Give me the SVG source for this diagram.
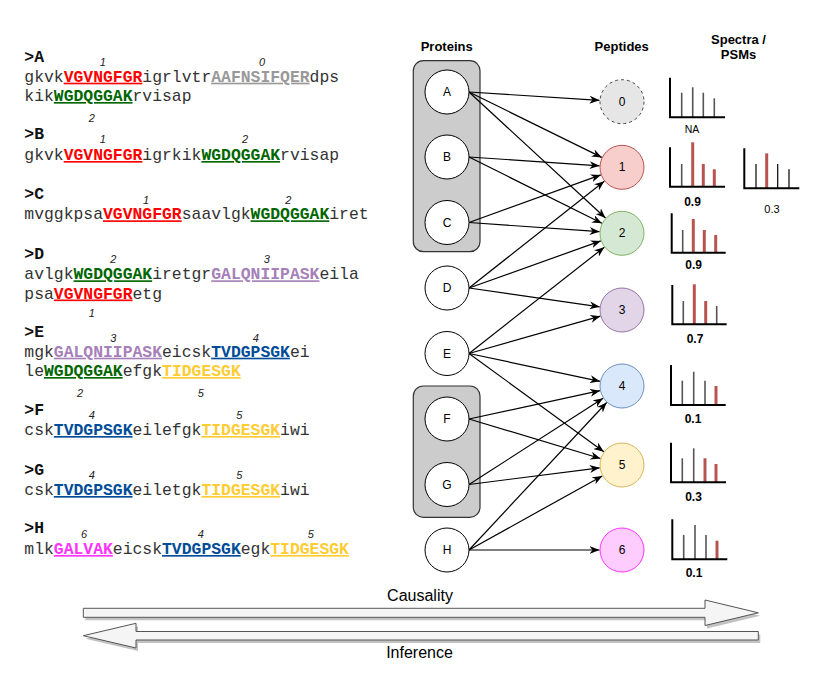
<svg xmlns="http://www.w3.org/2000/svg" width="824" height="673" viewBox="0 0 824 673">
<defs>
<style>
.seq{font-family:"Liberation Mono","Courier New",monospace;font-size:16.4px;fill:#333}
.lbl{font-family:"Liberation Mono","Courier New",monospace;font-size:16.4px;font-weight:bold;fill:#111}
.p{font-weight:bold;text-decoration:underline}
.red{fill:#FF0000}.gry{fill:#999999}.grn{fill:#006600}.pur{fill:#A680B8}.blu{fill:#004C99}.yel{fill:#FFCC33}.mag{fill:#FF33FF}
.num{font-family:"Liberation Sans",Arial,sans-serif;font-style:italic;font-size:11px;fill:#222;text-anchor:middle}
.hdr{font-family:"Liberation Sans",Arial,sans-serif;font-weight:bold;font-size:13px;fill:#000;text-anchor:middle}
.nl{font-family:"Liberation Sans",Arial,sans-serif;font-size:12px;fill:#000;text-anchor:middle;dominant-baseline:central}
.pc{fill:#fff;stroke:#000;stroke-width:1}
.grp{fill:#CCCCCC;stroke:#333;stroke-width:1.2}
.edge{stroke:#000;stroke-width:1.2;fill:none;marker-end:url(#arr)}
.ax{stroke:#000;stroke-width:2;fill:none}
.g{stroke:#555;stroke-width:1.6}
.r{stroke:#B85450;stroke-width:3}
.k{stroke:#000;stroke-width:1.2}
.sc{font-family:"Liberation Sans",Arial,sans-serif;font-weight:bold;font-size:12px;fill:#000;text-anchor:middle}
.scn{font-family:"Liberation Sans",Arial,sans-serif;font-size:10.5px;fill:#000;text-anchor:middle}
.big{fill:#F5F5F5;stroke:#555;stroke-width:1}
.shd{fill:#999;opacity:0.6}
.cap{font-family:"Liberation Sans",Arial,sans-serif;font-size:16px;fill:#000;text-anchor:middle}
</style>
<marker id="arr" viewBox="0 0 10 8" refX="10" refY="4" markerWidth="10" markerHeight="8" markerUnits="userSpaceOnUse" orient="auto">
<path d="M0,0 L10,4 L0,8 L3,4 Z" fill="#000"/>
</marker>
</defs>

<g id="sequences">
<text class="lbl" x="24.3" y="61.7">&gt;A</text>
<text class="num" x="102.7" y="66">1</text><text class="num" x="262" y="66">0</text>
<text class="seq" x="24.3" y="81.7">gkvk<tspan class="p red">VGVNGFGR</tspan>igrlvtr<tspan class="p gry">AAFNSIFQER</tspan>dps</text>
<text class="seq" x="24.3" y="101">kik<tspan class="p grn">WGDQGGAK</tspan>rvisap</text>
<text class="num" x="91.7" y="121.7">2</text>

<text class="lbl" x="24.3" y="139.3">&gt;B</text>
<text class="num" x="102.7" y="143">1</text><text class="num" x="245" y="143">2</text>
<text class="seq" x="24.3" y="160">gkvk<tspan class="p red">VGVNGFGR</tspan>igrkik<tspan class="p grn">WGDQGGAK</tspan>rvisap</text>

<text class="lbl" x="24.3" y="199.3">&gt;C</text>
<text class="num" x="146" y="204.3">1</text><text class="num" x="288.3" y="204.3">2</text>
<text class="seq" x="24.3" y="219.3">mvggkpsa<tspan class="p red">VGVNGFGR</tspan>saavlgk<tspan class="p grn">WGDQGGAK</tspan>iret</text>

<text class="lbl" x="24.3" y="259.3">&gt;D</text>
<text class="num" x="113.3" y="262.7">2</text><text class="num" x="266.7" y="262.7">3</text>
<text class="seq" x="24.3" y="279.3">avlgk<tspan class="p grn">WGDQGGAK</tspan>iretgr<tspan class="p pur">GALQNIIPASK</tspan>eila</text>
<text class="seq" x="24.3" y="298.5">psa<tspan class="p red">VGVNGFGR</tspan>etg</text>
<text class="num" x="91.7" y="317.3">1</text>

<text class="lbl" x="24.3" y="336.7">&gt;E</text>
<text class="num" x="113.3" y="341.7">3</text><text class="num" x="255.7" y="341.7">4</text>
<text class="seq" x="24.3" y="356.7">mgk<tspan class="p pur">GALQNIIPASK</tspan>eicsk<tspan class="p blu">TVDGPSGK</tspan>ei</text>
<text class="seq" x="24.3" y="376">le<tspan class="p grn">WGDQGGAK</tspan>efgk<tspan class="p yel">TIDGESGK</tspan></text>
<text class="num" x="80" y="396.7">2</text><text class="num" x="200.7" y="396.7">5</text>

<text class="lbl" x="24.3" y="415">&gt;F</text>
<text class="num" x="91.7" y="418.5">4</text><text class="num" x="239.3" y="418.5">5</text>
<text class="seq" x="24.3" y="435">csk<tspan class="p blu">TVDGPSGK</tspan>eilefgk<tspan class="p yel">TIDGESGK</tspan>iwi</text>

<text class="lbl" x="24.3" y="475">&gt;G</text>
<text class="num" x="91.7" y="479.3">4</text><text class="num" x="239.3" y="479.3">5</text>
<text class="seq" x="24.3" y="495">csk<tspan class="p blu">TVDGPSGK</tspan>eiletgk<tspan class="p yel">TIDGESGK</tspan>iwi</text>

<text class="lbl" x="24.3" y="533.3">&gt;H</text>
<text class="num" x="84" y="538.3">6</text><text class="num" x="200.7" y="538.3">4</text><text class="num" x="310.7" y="538.3">5</text>
<text class="seq" x="24.3" y="554">mlk<tspan class="p mag">GALVAK</tspan>eicsk<tspan class="p blu">TVDGPSGK</tspan>egk<tspan class="p yel">TIDGESGK</tspan></text>
</g>

<g id="headers">
<text class="hdr" x="446.7" y="50.7">Proteins</text>
<text class="hdr" x="621.7" y="50.7">Peptides</text>
<text class="hdr" x="738.5" y="44">Spectra /</text>
<text class="hdr" x="738.5" y="58.5">PSMs</text>
</g>

<g id="group-ABC"><rect class="grp" x="413.3" y="60.7" width="66.7" height="191" rx="10"/></g>
<g id="group-FG"><rect class="grp" x="413.3" y="386" width="66.7" height="131.3" rx="10"/></g>

<g id="connectors">
<line class="edge" x1="469" y1="92" x2="599.5" y2="100.3"/>
<line class="edge" x1="469" y1="92" x2="601.8" y2="157.4"/>
<line class="edge" x1="469" y1="92" x2="605.5" y2="218"/>
<line class="edge" x1="469" y1="157" x2="599.6" y2="165.8"/>
<line class="edge" x1="469" y1="157" x2="601.9" y2="223.3"/>
<line class="edge" x1="469" y1="222.5" x2="600.8" y2="174.9"/>
<line class="edge" x1="469" y1="222.5" x2="599.6" y2="231.7"/>
<line class="edge" x1="469" y1="288" x2="604.3" y2="181.2"/>
<line class="edge" x1="469" y1="288" x2="600.8" y2="240.9"/>
<line class="edge" x1="469" y1="288" x2="599.7" y2="306.8"/>
<line class="edge" x1="469" y1="353.5" x2="604.3" y2="247.2"/>
<line class="edge" x1="469" y1="353.5" x2="600.4" y2="316.2"/>
<line class="edge" x1="469" y1="353.5" x2="600" y2="381.3"/>
<line class="edge" x1="469" y1="353.5" x2="603.8" y2="451.7"/>
<line class="edge" x1="469" y1="419" x2="600" y2="390.7"/>
<line class="edge" x1="469" y1="419" x2="600.5" y2="458.5"/>
<line class="edge" x1="469" y1="484.5" x2="603.1" y2="398.2"/>
<line class="edge" x1="469" y1="484.5" x2="599.7" y2="467.8"/>
<line class="edge" x1="469" y1="550" x2="606.7" y2="402.5"/>
<line class="edge" x1="469" y1="550" x2="602.3" y2="475.9"/>
<line class="edge" x1="469" y1="550" x2="599.5" y2="550"/>
</g>

<g id="protein-A"><circle class="pc" cx="447" cy="92" r="22"/><text class="nl" x="447" y="92">A</text></g>
<g id="protein-B"><circle class="pc" cx="447" cy="157" r="22"/><text class="nl" x="447" y="157">B</text></g>
<g id="protein-C"><circle class="pc" cx="447" cy="222.5" r="22"/><text class="nl" x="447" y="222.5">C</text></g>
<g id="protein-D"><circle class="pc" cx="447" cy="288" r="22"/><text class="nl" x="447" y="288">D</text></g>
<g id="protein-E"><circle class="pc" cx="447" cy="353.5" r="22"/><text class="nl" x="447" y="353.5">E</text></g>
<g id="protein-F"><circle class="pc" cx="447" cy="419" r="22"/><text class="nl" x="447" y="419">F</text></g>
<g id="protein-G"><circle class="pc" cx="447" cy="484.5" r="22"/><text class="nl" x="447" y="484.5">G</text></g>
<g id="protein-H"><circle class="pc" cx="447" cy="550" r="22"/><text class="nl" x="447" y="550">H</text></g>

<g id="peptide-0"><circle cx="622" cy="101.7" r="22" fill="#E6E6E6" stroke="#444" stroke-width="1" stroke-dasharray="3,3"/><text class="nl" x="622" y="101.7">0</text></g>
<g id="peptide-1"><circle cx="622" cy="167.3" r="22" fill="#F8CECC" stroke="#B85450" stroke-width="1"/><text class="nl" x="622" y="167.3">1</text></g>
<g id="peptide-2"><circle cx="622" cy="233.3" r="22" fill="#D5E8D4" stroke="#82B366" stroke-width="1"/><text class="nl" x="622" y="233.3">2</text></g>
<g id="peptide-3"><circle cx="622" cy="310" r="22" fill="#E1D5E7" stroke="#9673A6" stroke-width="1"/><text class="nl" x="622" y="310">3</text></g>
<g id="peptide-4"><circle cx="622" cy="386" r="22" fill="#DAE8FC" stroke="#6C8EBF" stroke-width="1"/><text class="nl" x="622" y="386">4</text></g>
<g id="peptide-5"><circle cx="622" cy="465" r="22" fill="#FFF2CC" stroke="#D6B656" stroke-width="1"/><text class="nl" x="622" y="465">5</text></g>
<g id="peptide-6"><circle cx="622" cy="550" r="22" fill="#FFCCFF" stroke="#FF33FF" stroke-width="1"/><text class="nl" x="622" y="550">6</text></g>

<g id="spectrum-0" transform="translate(670,117.3)">
<line class="g" x1="11.7" y1="0" x2="11.7" y2="-24.6"/><line class="g" x1="22.7" y1="0" x2="22.7" y2="-30"/><line class="g" x1="33.3" y1="0" x2="33.3" y2="-24.6"/><line class="g" x1="44.3" y1="0" x2="44.3" y2="-19"/>
<path class="ax" d="M0,-39.6 V0 H55"/>
<text class="scn" x="22" y="16">NA</text>
</g>
<g id="spectrum-1a" transform="translate(670,186.7)">
<line class="g" x1="11.7" y1="0" x2="11.7" y2="-22.7"/><line class="r" x1="22.7" y1="0" x2="22.7" y2="-44.4"/><line class="r" x1="33.3" y1="0" x2="33.3" y2="-22.7"/><line class="r" x1="44.3" y1="0" x2="44.3" y2="-17.4"/>
<path class="ax" d="M0,-39.4 V0 H55"/>
<text class="sc" x="22.5" y="19.3">0.9</text>
</g>
<g id="spectrum-1b" transform="translate(744.3,188.3)">
<line class="k" x1="11.7" y1="0" x2="11.7" y2="-24.3"/><line class="r" x1="22.4" y1="0" x2="22.4" y2="-35"/><line class="k" x1="33.4" y1="0" x2="33.4" y2="-24.3"/><line class="k" x1="44.7" y1="0" x2="44.7" y2="-19"/>
<path class="ax" d="M0,-40 V0 H55"/>
<text class="scn" x="27.7" y="24.7" style="font-size:11px">0.3</text>
</g>
<g id="spectrum-2" transform="translate(671.7,252.7)">
<line class="g" x1="11" y1="0" x2="11" y2="-22.7"/><line class="r" x1="21.6" y1="0" x2="21.6" y2="-33.7"/><line class="r" x1="32.6" y1="0" x2="32.6" y2="-22.7"/><line class="r" x1="44" y1="0" x2="44" y2="-17.7"/>
<path class="ax" d="M0,-39.4 V0 H54"/>
<text class="sc" x="22" y="16.3">0.9</text>
</g>
<g id="spectrum-3" transform="translate(672.3,324.3)">
<line class="g" x1="11" y1="0" x2="11" y2="-23.3"/><line class="r" x1="22" y1="0" x2="22" y2="-40"/><line class="r" x1="33.4" y1="0" x2="33.4" y2="-23.3"/><line class="g" x1="44.4" y1="0" x2="44.4" y2="-18.3"/>
<path class="ax" d="M0,-39.3 V0 H54.4"/>
<text class="sc" x="22.7" y="18.4">0.7</text>
</g>
<g id="spectrum-4" transform="translate(671,405)">
<line class="g" x1="11.3" y1="0" x2="11.3" y2="-24.3"/><line class="g" x1="22.7" y1="0" x2="22.7" y2="-33.3"/><line class="g" x1="34" y1="0" x2="34" y2="-24.3"/><line class="r" x1="45" y1="0" x2="45" y2="-19"/>
<path class="ax" d="M0,-40 V0 H54.7"/>
<text class="sc" x="22" y="17.7">0.1</text>
</g>
<g id="spectrum-5" transform="translate(671,482.3)">
<line class="g" x1="11.3" y1="0" x2="11.3" y2="-24"/><line class="g" x1="22.7" y1="0" x2="22.7" y2="-34"/><line class="r" x1="34" y1="0" x2="34" y2="-24"/><line class="r" x1="45" y1="0" x2="45" y2="-18.3"/>
<path class="ax" d="M0,-39.6 V0 H55"/>
<text class="sc" x="22.5" y="18.4">0.3</text>
</g>
<g id="spectrum-6" transform="translate(672.3,559.3)">
<line class="g" x1="11.4" y1="0" x2="11.4" y2="-24.3"/><line class="g" x1="22.7" y1="0" x2="22.7" y2="-34.3"/><line class="g" x1="33.7" y1="0" x2="33.7" y2="-24.3"/><line class="r" x1="44.7" y1="0" x2="44.7" y2="-18.6"/>
<path class="ax" d="M0,-40 V0 H55"/>
<text class="sc" x="21.7" y="17.4">0.1</text>
</g>

<g id="causality">
<polygon class="shd" points="85.3,611.3 707,611.3 707,603 760.3,615.8 707,628.5 707,620.3 85.3,620.3"/>
<polygon class="big" points="83.3,608.3 705,608.3 705,600 758.3,612.8 705,625.5 705,617.3 83.3,617.3"/>
<text class="cap" x="420" y="600.7">Causality</text>
</g>
<g id="inference">
<polygon class="shd" points="85.3,638.7 138,626.3 138,634.5 760.3,634.5 760.3,643 138,643 138,651"/>
<polygon class="big" points="83.3,635.7 136,623.3 136,631.5 758.3,631.5 758.3,640 136,640 136,648"/>
<text class="cap" x="419.5" y="658.3">Inference</text>
</g>
</svg>
